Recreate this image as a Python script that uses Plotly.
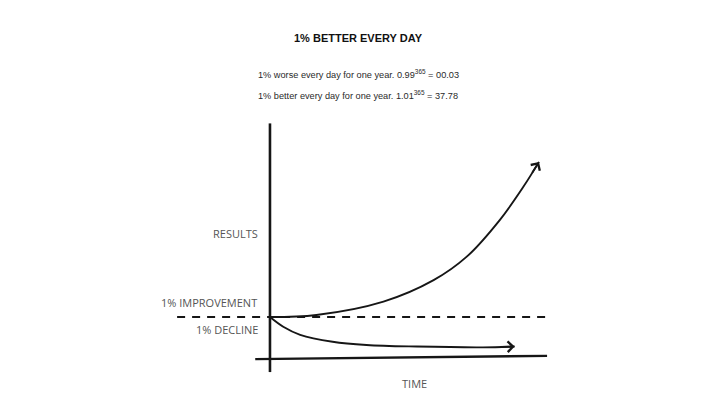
import plotly.graph_objects as go

# ---- data (time in days, results in relative units; baseline = 1) ----
better_days = [0, 63, 154, 222, 267, 312, 344, 365]
better_results = [1.0, 1.05, 1.38, 1.91, 2.49, 3.40, 4.22, 4.83]

worse_days = [0, 18, 41, 85, 131, 199, 289, 332]
worse_results = [1.0, 0.76, 0.56, 0.39, 0.31, 0.27, 0.25, 0.27]

baseline_days = [-126, 380]
baseline_results = [1.0, 1.0]

y_axis_days = [0, 0]
y_axis_results = [-0.36, 5.78]
x_axis_days = [-20, 376]
x_axis_results = [-0.04, 0.04]

title_text = "<b>1% BETTER EVERY DAY</b>"
sub1 = "1% worse every day for one year. 0.99<sup>365</sup> = 00.03"
sub2 = "1% better every day for one year. 1.01<sup>365</sup> = 37.78"
labels = ["RESULTS", "1% IMPROVEMENT", "1% DECLINE", "TIME"]

INK = "#161616"
LABEL = "#555555"

fig = go.Figure()

# axes drawn as lines
fig.add_trace(go.Scatter(x=y_axis_days, y=y_axis_results, mode="lines",
                         line=dict(color=INK, width=2.6), hoverinfo="skip"))
fig.add_trace(go.Scatter(x=x_axis_days, y=x_axis_results, mode="lines",
                         line=dict(color=INK, width=2.4), hoverinfo="skip"))
# dashed baseline
fig.add_trace(go.Scatter(x=baseline_days, y=baseline_results, mode="lines",
                         line=dict(color=INK, width=1.8, dash="8px,7px"), hoverinfo="skip"))
# curves
fig.add_trace(go.Scatter(x=better_days, y=better_results, mode="lines",
                         line=dict(color=INK, width=1.9, shape="spline", smoothing=1.0)))
fig.add_trace(go.Scatter(x=worse_days, y=worse_results, mode="lines",
                         line=dict(color=INK, width=1.9, shape="spline", smoothing=1.0)))

# arrowheads at curve ends
for xs, ys in [(better_days, better_results), (worse_days, worse_results)]:
    fig.add_annotation(x=xs[-1], y=ys[-1], ax=xs[-2] + (xs[-1] - xs[-2]) * 0.5,
                       ay=ys[-2] + (ys[-1] - ys[-2]) * 0.5,
                       xref="x", yref="y", axref="x", ayref="y", text="",
                       showarrow=True, arrowhead=4, arrowsize=1.15, arrowwidth=1.8,
                       arrowcolor=INK, standoff=0, startstandoff=0)

lab_font = dict(family="Open Sans, sans-serif", size=11, color=LABEL)
fig.add_annotation(x=-13.6, y=3.05, text=labels[0], showarrow=False,
                   xanchor="right", yanchor="middle", font=lab_font)
fig.add_annotation(x=-14.9, y=1.35, text=labels[1], showarrow=False,
                   xanchor="right", yanchor="middle", font=lab_font)
fig.add_annotation(x=-13.6, y=0.70, text=labels[2], showarrow=False,
                   xanchor="right", yanchor="middle", font=lab_font)
fig.add_annotation(x=196.7, y=-0.65, text=labels[3], showarrow=False,
                   xanchor="center", yanchor="middle", font=lab_font)

# title and subtitles
fig.add_annotation(x=358 / 720, y=1 - 38 / 405, xref="paper", yref="paper",
                   text=title_text, showarrow=False, xanchor="center", yanchor="middle",
                   font=dict(family="Liberation Sans, Arial, sans-serif", size=11, color="#111111"))
sub_font = dict(family="Liberation Sans, Arial, sans-serif", size=9.2, color="#2a2a2a")
fig.add_annotation(x=358 / 720, y=1 - 73.5 / 405, xref="paper", yref="paper",
                   text=sub1, showarrow=False, xanchor="center", yanchor="middle", font=sub_font)
fig.add_annotation(x=358 / 720, y=1 - 95 / 405, xref="paper", yref="paper",
                   text=sub2, showarrow=False, xanchor="center", yanchor="middle", font=sub_font)

fig.update_layout(
    width=720, height=405,
    margin=dict(l=0, r=0, t=0, b=0),
    paper_bgcolor="white", plot_bgcolor="white",
    showlegend=False,
    xaxis=dict(visible=False, range=[-366.3, 610.6], fixedrange=True),
    yaxis=dict(visible=False, range=[-1.173, 8.827], fixedrange=True),
)

fig.write_html("out.html", config={"displayModeBar": False},
               post_script="document.body.style.margin='0';document.body.style.overflow='hidden';")
